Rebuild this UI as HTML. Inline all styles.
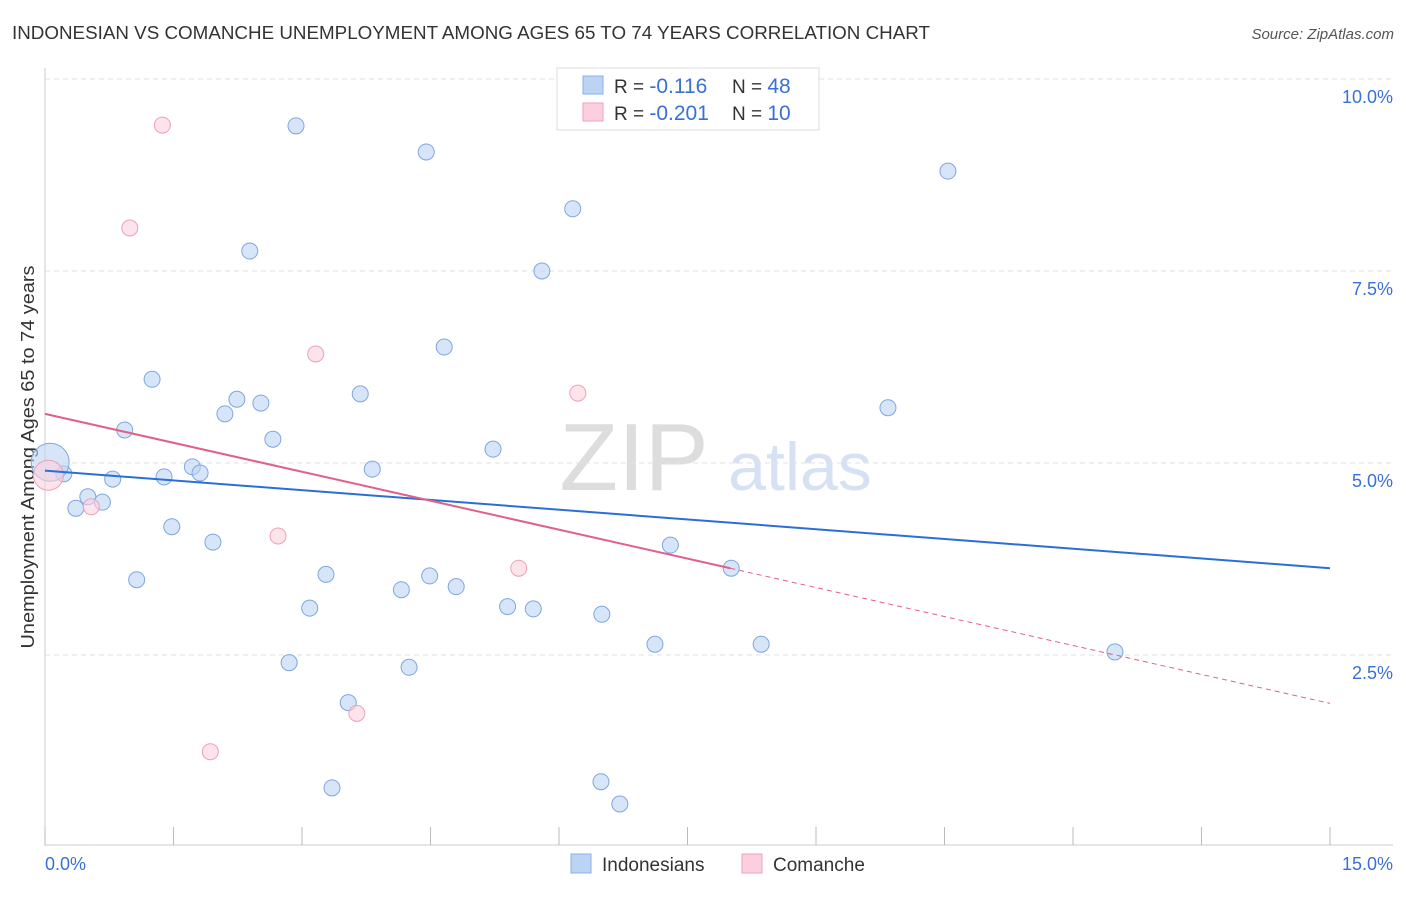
<!DOCTYPE html>
<html><head><meta charset="utf-8"><style>
body{margin:0;background:#fff;font-family:"Liberation Sans",sans-serif;}
svg text{font-family:"Liberation Sans",sans-serif;}
</style></head><body>
<svg id="c" width="1406" height="892">
<text x="12" y="39" font-size="18" fill="#333" textLength="918" lengthAdjust="spacingAndGlyphs">INDONESIAN VS COMANCHE UNEMPLOYMENT AMONG AGES 65 TO 74 YEARS CORRELATION CHART</text>
<text x="1394" y="39" font-size="15" fill="#555" font-style="italic" text-anchor="end">Source: ZipAtlas.com</text>
<text x="634" y="490" font-size="96" fill="#ddd" font-family="Liberation Serif" text-anchor="middle">ZIP</text>
<text x="800" y="490" font-size="68" fill="#d6e2f4" text-anchor="middle">atlas</text>
<text transform="translate(34,457) rotate(-90)" font-size="18" fill="#333" text-anchor="middle" textLength="383" lengthAdjust="spacingAndGlyphs">Unemployment Among Ages 65 to 74 years</text>
<g id="grid"></g><g id="marks"></g>
<g>
<rect x="557" y="68" width="262" height="62" fill="#fff" stroke="#ddd"/>
<rect x="583" y="76" width="20" height="18" fill="#bcd4f4" stroke="#8ab0e8"/>
<rect x="583" y="103" width="20" height="18" fill="#fbd0dc" stroke="#f0a0b8"/>
<text x="614" y="93" font-size="19" fill="#333">R = <tspan fill="#3a70d6" font-size="21">-0.116</tspan></text>
<text x="732" y="93" font-size="19" fill="#333">N = <tspan fill="#3a70d6" font-size="21">48</tspan></text>
<text x="614" y="120" font-size="19" fill="#333">R = <tspan fill="#3a70d6" font-size="21">-0.201</tspan></text>
<text x="732" y="120" font-size="19" fill="#333">N = <tspan fill="#3a70d6" font-size="21">10</tspan></text>
</g>
<g>
<rect x="571" y="854" width="20" height="19" fill="#bcd4f4" stroke="#8ab0e8"/>
<text x="602" y="871" font-size="19" fill="#333">Indonesians</text>
<rect x="742" y="854" width="20" height="19" fill="#fbd0dc" stroke="#f0a0b8"/>
<text x="773" y="871" font-size="19" fill="#333">Comanche</text>
</g>
</svg>
<script>
const yTicks=[10,7.5,5,2.5];
const yTickLabels=["10.0%","7.5%","5.0%","2.5%"];
const xTickVals=[0,1.5,3,4.5,6,7.5,9,10.5,12,13.5,15];
const blueX=[2.93,4.45,10.54,6.16,2.39,5.80,4.66,1.25,3.68,2.24,2.52,2.10,9.84,0.93,2.66,5.23,1.72,1.81,3.82,1.39,0.79,0.22,0.50,0.67,0.36,1.48,1.96,7.30,8.01,1.07,3.28,4.49,4.16,4.80,3.09,5.40,5.70,6.50,7.12,8.36,12.49,2.85,4.25,3.54,6.49,3.35,6.71,0.06];
const blueY=[9.39,9.05,8.80,8.31,7.76,7.50,6.51,6.09,5.90,5.83,5.78,5.64,5.72,5.43,5.31,5.18,4.95,4.87,4.92,4.82,4.79,4.86,4.56,4.49,4.41,4.17,3.97,3.93,3.63,3.48,3.55,3.53,3.35,3.39,3.11,3.13,3.10,3.03,2.64,2.64,2.54,2.40,2.34,1.88,0.85,0.77,0.56,5.01];
const pinkX=[1.37,0.99,3.16,6.22,0.04,0.54,2.72,5.53,3.64,1.93];
const pinkY=[9.40,8.06,6.42,5.91,4.84,4.43,4.05,3.63,1.74,1.24];
const blueLine=[4.90,3.63];
const pinkLine=[5.64,1.87];
const pinkSolidEnd=8.0;
const X=v=>45+v*1285/15, Y=v=>847-v*76.8;
const NS="http://www.w3.org/2000/svg";
function mk(t,a,p){const e=document.createElementNS(NS,t);for(const k in a)e.setAttribute(k,a[k]);p.appendChild(e);return e;}
const g=document.getElementById('grid'), m=document.getElementById('marks');
yTicks.forEach((t,i)=>{
 const l=mk('line',{x1:45,x2:1393,y1:Y(t),y2:Y(t),stroke:'#e2e2e2','stroke-dasharray':'5,4'},g);
 
 
 const tx=mk('text',{x:1393,y:Y(t)+24,'font-size':18,fill:'#3a70d6','text-anchor':'end'},g);tx.textContent=yTickLabels[i];
 
 
});
const ax=mk('line',{x1:45,x2:45,y1:68,y2:846,stroke:'#ccc'},g);


const bx=mk('line',{x1:45,x2:1393,y1:845,y2:845,stroke:'#ccc'},g);


xTickVals.forEach(v=>{const t=mk('line',{x1:X(v),x2:X(v),y1:827,y2:845,stroke:'#bbb'},g);
 
 });
const xl0=mk('text',{x:45,y:870,'font-size':18,fill:'#3a70d6'},g);xl0.textContent='0.0%';


const xl1=mk('text',{x:1393,y:870,'font-size':18,fill:'#3a70d6','text-anchor':'end'},g);xl1.textContent='15.0%';


blueX.forEach((x,i)=>{const big=i===blueX.length-1;
 const c=mk('circle',{cx:X(x),cy:Y(blueY[i]),r:big?19:8,fill:'#bcd4f4','fill-opacity':0.6,stroke:'#7fa6e0','stroke-width':1},m);
 
 });
pinkX.forEach((x,i)=>{const big=i===4;
 const c=mk('circle',{cx:X(x),cy:Y(pinkY[i]),r:big?15:8,fill:'#fbd0dc','fill-opacity':0.6,stroke:'#eea0b8','stroke-width':1},m);
 
 });
const bl=mk('line',{x1:X(0),y1:Y(blueLine[0]),x2:X(15),y2:Y(blueLine[1]),stroke:'#2a6fd6','stroke-width':2},m);


const py=v=>pinkLine[0]+(pinkLine[1]-pinkLine[0])*v/15;
const pl=mk('line',{x1:X(0),y1:Y(py(0)),x2:X(pinkSolidEnd),y2:Y(py(pinkSolidEnd)),stroke:'#e0608a','stroke-width':2},m);


const pd=mk('line',{x1:X(pinkSolidEnd),y1:Y(py(pinkSolidEnd)),x2:X(15),y2:Y(py(15)),stroke:'#e0608a','stroke-width':1,'stroke-dasharray':'5,4'},m);


</script>
</body></html>
